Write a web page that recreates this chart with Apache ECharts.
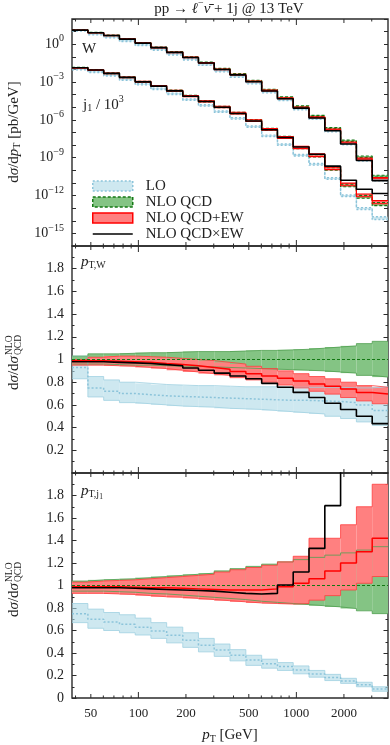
<!DOCTYPE html>
<html><head><meta charset="utf-8">
<script src="https://cdn.jsdelivr.net/npm/echarts@6/dist/echarts.min.js"></script>
<style>html,body{margin:0;padding:0;background:#fff}#c{width:390px;height:745px}</style>
</head><body><div id="c"></div>
<script>
// ---------------- DATA ----------------
const binEdges = [38, 47.9, 60.3, 75.9, 95.5, 120, 151, 191, 240, 302, 380, 479, 603, 759, 955, 1202, 1514, 1905, 2399, 3020, 3802];
const xLabels = [50, 100, 200, 500, 1000, 2000];
const xTicksMajor = [100, 1000];
const xTicksMid = [50, 200, 500, 2000];
const xTicksMinor = [40, 60, 70, 80, 90, 300, 400, 600, 700, 800, 900, 3000];
const topExpLabels = [0, -3, -6, -9, -12, -15];

// NLO QCD central values [pb/GeV] (top panel)
const wNLO = [13.5, 8.3, 5.0, 2.63, 1.26, 0.56, 0.24, 0.095, 0.036, 0.0112, 4.3e-3, 1.29e-3, 2.5e-4, 6.3e-5, 1.2e-5, 2.1e-6, 2.24e-7, 2.2e-8, 1.2e-9, 3.5e-11];
const j1NLO = [1.38e-2, 9.1e-3, 5.0e-3, 2.4e-3, 1.07e-3, 4.9e-4, 2.1e-4, 7.9e-5, 3.0e-5, 1.07e-5, 3.5e-6, 8.9e-7, 1.78e-7, 4.0e-8, 6.3e-9, 1.41e-9, 1.26e-10, 6.3e-12, 7.9e-13, 2.1e-13];

// ratios to NLO QCD, pT,W
const wLO    = [0.93, 0.75, 0.72, 0.70, 0.69, 0.68, 0.675, 0.67, 0.665, 0.66, 0.655, 0.65, 0.645, 0.64, 0.64, 0.635, 0.63, 0.62, 0.60, 0.55];
const wLOhi  = [1.03, 0.85, 0.82, 0.80, 0.79, 0.78, 0.775, 0.77, 0.77, 0.765, 0.76, 0.76, 0.76, 0.755, 0.755, 0.755, 0.755, 0.75, 0.75, 0.76];
const wLOlo  = [0.83, 0.67, 0.64, 0.62, 0.61, 0.60, 0.59, 0.585, 0.58, 0.57, 0.565, 0.56, 0.55, 0.54, 0.53, 0.52, 0.50, 0.48, 0.45, 0.42];
const wQCDhi = [1.03, 1.05, 1.05, 1.055, 1.06, 1.06, 1.065, 1.07, 1.07, 1.07, 1.075, 1.08, 1.08, 1.085, 1.09, 1.10, 1.11, 1.12, 1.14, 1.16];
const wQCDlo = [0.96, 0.96, 0.955, 0.95, 0.95, 0.945, 0.94, 0.94, 0.935, 0.93, 0.925, 0.92, 0.915, 0.91, 0.905, 0.90, 0.89, 0.88, 0.86, 0.845];
const wEW    = [0.99, 0.99, 0.985, 0.98, 0.975, 0.965, 0.955, 0.945, 0.93, 0.915, 0.895, 0.875, 0.855, 0.835, 0.81, 0.785, 0.765, 0.74, 0.71, 0.695];
const wEWhi  = [1.00, 1.02, 1.03, 1.03, 1.025, 1.02, 1.01, 1.00, 0.99, 0.975, 0.96, 0.94, 0.92, 0.90, 0.875, 0.85, 0.83, 0.80, 0.77, 0.755];
const wEWlo  = [0.95, 0.95, 0.945, 0.94, 0.93, 0.92, 0.905, 0.89, 0.875, 0.86, 0.84, 0.82, 0.80, 0.775, 0.75, 0.72, 0.695, 0.665, 0.635, 0.61];
const wMul   = [0.98, 0.98, 0.975, 0.97, 0.965, 0.955, 0.945, 0.925, 0.905, 0.88, 0.855, 0.83, 0.79, 0.755, 0.71, 0.665, 0.615, 0.56, 0.50, 0.435];

// ratios to NLO QCD, pT,j1
const jLO    = [0.75, 0.70, 0.675, 0.655, 0.63, 0.596, 0.558, 0.514, 0.47, 0.426, 0.38, 0.337, 0.305, 0.279, 0.25, 0.214, 0.182, 0.152, 0.117, 0.079];
const jLOhi  = [0.84, 0.79, 0.76, 0.74, 0.71, 0.67, 0.63, 0.58, 0.53, 0.48, 0.43, 0.38, 0.345, 0.315, 0.285, 0.245, 0.21, 0.175, 0.14, 0.10];
const jLOlo  = [0.67, 0.62, 0.60, 0.58, 0.56, 0.53, 0.49, 0.45, 0.41, 0.37, 0.33, 0.29, 0.265, 0.245, 0.215, 0.185, 0.155, 0.13, 0.10, 0.06];
const jQCDhi = [1.04, 1.05, 1.055, 1.06, 1.07, 1.08, 1.09, 1.10, 1.11, 1.13, 1.15, 1.17, 1.19, 1.21, 1.23, 1.25, 1.27, 1.29, 1.315, 1.345];
const jQCDlo = [0.95, 0.95, 0.945, 0.94, 0.93, 0.925, 0.915, 0.905, 0.895, 0.885, 0.875, 0.86, 0.85, 0.84, 0.83, 0.82, 0.81, 0.795, 0.775, 0.75];
const jEW    = [0.99, 0.99, 0.99, 0.985, 0.98, 0.98, 0.975, 0.97, 0.965, 0.96, 0.96, 0.96, 0.97, 0.99, 1.02, 1.06, 1.13, 1.20, 1.30, 1.42];
const jEWhi  = [1.03, 1.04, 1.045, 1.05, 1.06, 1.07, 1.08, 1.09, 1.10, 1.12, 1.14, 1.16, 1.18, 1.21, 1.26, 1.42, 1.42, 1.54, 1.70, 1.90];
const jEWlo  = [0.93, 0.93, 0.925, 0.92, 0.91, 0.90, 0.895, 0.885, 0.875, 0.865, 0.855, 0.845, 0.84, 0.835, 0.84, 0.87, 0.91, 0.96, 1.02, 1.08];
const jMul   = [0.98, 0.98, 0.98, 0.975, 0.97, 0.965, 0.96, 0.955, 0.95, 0.94, 0.93, 0.925, 0.93, 1.005, 1.12, 1.33, 1.71, 2.6, 4.0, 7.0];

// ---------------- STYLE ----------------
const FONT = "'Liberation Serif','DejaVu Serif',serif";
const FS = 15;      // text size
const FN = 13;      // tick number size
const AX = '#2b2b2b';
const C = {
  lbFill: 'rgba(173,216,230,0.6)', lbEdge: 'rgb(160,208,225)', lbLine: 'rgb(140,196,218)',
  gFill: 'rgb(132,196,132)', gEdge: 'rgb(80,160,80)', gLine: 'rgb(20,120,20)',
  rFill: 'rgb(255,128,128)', rEdge: 'rgb(255,60,60)', rLine: 'rgb(255,0,0)',
  black: '#000'
};
const L10 = Math.log10;
const X = binEdges.map(L10);
const GRID_TOPS = [19, 246, 473];
const YR = [[-16, 2], [0, 2], [0, 2]];

// ---------------- BUILDERS ----------------
function bandData(lo, hi, f) { return lo.map((l, i) => [X[i], X[i + 1], f(i, l), f(i, hi[i])]); }
function stepData(vals, f) {
  const d = vals.map((v, i) => [X[i], f(i, v)]);
  d.push([X[vals.length], f(vals.length - 1, vals[vals.length - 1])]);
  return d;
}
function bandSeries(gi, data, fill, name) {
  return {
    type: 'custom', name: name, xAxisIndex: gi, yAxisIndex: 2 * gi, data: data,
    encode: { x: [0, 1], y: [2, 3] }, silent: true, animation: false,
    renderItem: function (params, api) {
      const p0 = api.coord([api.value(0), api.value(3)]);
      const p1 = api.coord([api.value(1), api.value(2)]);
      const cs = params.coordSys;
      const r = echarts.graphic.clipRectByRect(
        { x: p0[0], y: p0[1], width: p1[0] - p0[0], height: p1[1] - p0[1] },
        { x: cs.x, y: cs.y, width: cs.width, height: cs.height });
      return r ? { type: 'rect', shape: r, style: { fill: fill } } : null;
    }
  };
}
function lineSeries(gi, data, color, width, type, name) {
  return {
    type: 'line', name: name, xAxisIndex: gi, yAxisIndex: 2 * gi, data: data, step: 'end',
    symbol: 'none', showSymbol: false, clip: true, silent: true, animation: false,
    lineStyle: { color: color, width: width, type: type || 'solid' }
  };
}
function tickSeries(gi) {
  const data = [];
  xTicksMajor.forEach(v => data.push([L10(v), YR[gi][0], 6]));
  xTicksMid.forEach(v => data.push([L10(v), YR[gi][0], 4]));
  xTicksMinor.forEach(v => data.push([L10(v), YR[gi][0], 2.5]));
  return {
    type: 'custom', xAxisIndex: gi, yAxisIndex: 2 * gi, data: data, silent: true, animation: false,
    encode: { x: 0, y: 1 }, z: 10,
    renderItem: function (params, api) {
      const x = api.coord([api.value(0), api.value(1)])[0];
      const cs = params.coordSys; const len = api.value(2);
      const st = { stroke: AX, lineWidth: 1 };
      return { type: 'group', children: [
        { type: 'line', shape: { x1: x, y1: cs.y + cs.height, x2: x, y2: cs.y + cs.height - len }, style: st },
        { type: 'line', shape: { x1: x, y1: cs.y, x2: x, y2: cs.y + len }, style: st }
      ] };
    }
  };
}

const series = [];
function addSet(gi, nlo, R, named) {
  const top = gi === 0;
  const f = top ? (i, r) => L10(nlo[i] * r) : (i, r) => r;
  const nm = s => named ? s : undefined;
  series.push(bandSeries(gi, bandData(R.LOlo, R.LOhi, f), C.lbFill, nm('LO')));
  series.push(bandSeries(gi, bandData(R.QCDlo, R.QCDhi, f), C.gFill, nm('NLO QCD')));
  series.push(bandSeries(gi, bandData(R.EWlo, R.EWhi, f), C.rFill, nm('NLO QCD+EW')));
  if (top) {
    series.push(lineSeries(gi, stepData(R.LOhi, f), C.lbLine, 1.4, [2, 2]));
    series.push(lineSeries(gi, stepData(R.LOlo, f), C.lbLine, 1.4, [2, 2]));
    series.push(lineSeries(gi, stepData(R.QCDhi, f), C.gLine, 1.2, [3, 2]));
    series.push(lineSeries(gi, stepData(R.QCDlo, f), C.gLine, 1.2, [3, 2]));
    series.push(lineSeries(gi, stepData(R.EWhi, f), C.rLine, 1.1));
    series.push(lineSeries(gi, stepData(R.EWlo, f), C.rLine, 1.1));
  } else {
    series.push(lineSeries(gi, stepData(R.LOhi, f), C.lbEdge, 0.8));
    series.push(lineSeries(gi, stepData(R.LOlo, f), C.lbEdge, 0.8));
    series.push(lineSeries(gi, stepData(R.QCDhi, f), C.gEdge, 0.8));
    series.push(lineSeries(gi, stepData(R.QCDlo, f), C.gEdge, 0.8));
    series.push(lineSeries(gi, stepData(R.EWhi, f), C.rEdge, 0.8));
    series.push(lineSeries(gi, stepData(R.EWlo, f), C.rEdge, 0.8));
    series.push(lineSeries(gi, stepData(R.LO, f), C.lbLine, 1.5, [2, 2]));
    series.push(lineSeries(gi, stepData(R.LO.map(() => 1), f), C.gLine, 1.2, [3, 2]));
    series.push(lineSeries(gi, stepData(R.EW, f), C.rLine, 1.5));
  }
  series.push(lineSeries(gi, stepData(R.Mul, f), C.black, 1.6, 'solid', nm('NLO QCD×EW')));
}
const RW = { LO: wLO, LOhi: wLOhi, LOlo: wLOlo, QCDhi: wQCDhi, QCDlo: wQCDlo, EW: wEW, EWhi: wEWhi, EWlo: wEWlo, Mul: wMul };
const RJ = { LO: jLO, LOhi: jLOhi, LOlo: jLOlo, QCDhi: jQCDhi, QCDlo: jQCDlo, EW: jEW, EWhi: jEWhi, EWlo: jEWlo, Mul: jMul };
addSet(0, wNLO, RW, true);
addSet(0, j1NLO, RJ, false);
addSet(1, null, RW, false);
addSet(2, null, RJ, false);
[0, 1, 2].forEach(gi => series.push(tickSeries(gi)));

// ---------------- AXES ----------------
const rich = {
  n: { fontFamily: FONT, fontSize: FS, color: '#222', verticalAlign: 'middle' },
  i: { fontFamily: FONT, fontSize: FS, fontStyle: 'italic', color: '#222', verticalAlign: 'middle' },
  sub: { fontFamily: FONT, fontSize: 10, color: '#222', padding: [7, 0, 0, 0], verticalAlign: 'middle' },
  ssub: { fontFamily: FONT, fontSize: 7.5, color: '#222', padding: [13, 0, 0, 0], verticalAlign: 'middle' },
  sup: { fontFamily: FONT, fontSize: 10, color: '#222', padding: [0, 0, 11, 0], verticalAlign: 'middle' }
};
const grid = GRID_TOPS.map(t => ({ left: 72, right: 2, top: t, height: 227, show: true, borderColor: AX, borderWidth: 1.4, backgroundColor: 'transparent' }));
const xAxis = [0, 1, 2].map(gi => ({
  gridIndex: gi, type: 'value', min: X[0], max: X[X.length - 1],
  axisLine: { show: false }, axisTick: { show: false }, splitLine: { show: false },
  axisLabel: gi === 2 ? { show: true, customValues: xLabels.map(L10), formatter: v => String(Math.round(Math.pow(10, v))), fontFamily: FONT, fontSize: FN, color: '#222', margin: 9 } : { show: false },
  name: gi === 2 ? '{i|p}{sub|T}{n| [GeV]}' : '', nameLocation: 'middle', nameGap: 29,
  nameTextStyle: { rich: rich }
}));
const yAxis = [];
[0, 1, 2].forEach(gi => {
  const top = gi === 0;
  const base = {
    gridIndex: gi, type: 'value', min: YR[gi][0], max: YR[gi][1], interval: top ? 1 : 0.2,
    axisLine: { show: false }, splitLine: { show: false },
    axisTick: { show: true, inside: true, length: top ? 4 : 4.5, lineStyle: { color: AX, width: 1 } },
    minorTick: { show: !top, splitNumber: 2, length: 2.5, lineStyle: { color: AX, width: 1 } }
  };
  const lab = top ? {
    formatter: v => topExpLabels.indexOf(Math.round(v)) >= 0 ? '{b|10}{s|' + (v === 0 ? '0' : '−' + (-Math.round(v))) + '}' : '',
    rich: { b: { fontFamily: FONT, fontSize: 14, color: '#222', verticalAlign: 'middle' }, s: { fontFamily: FONT, fontSize: 10, color: '#222', padding: [0, 0, 11, 0], verticalAlign: 'middle' } },
    margin: 8
  } : {
    formatter: v => { const r = Math.round(v * 10) / 10; if (r >= 2 || (gi === 1 && r <= 0)) return ''; return String(r); },
    fontFamily: FONT, fontSize: FN + 1, color: '#222', margin: 8
  };
  yAxis.push(Object.assign({}, base, { position: 'left', axisLabel: Object.assign({ show: true, showMinLabel: true, showMaxLabel: true, hideOverlap: false }, lab) }));
  yAxis.push(Object.assign({}, base, { position: 'right', axisLabel: { show: false } }));
});

// ---------------- TEXT ----------------
const T = (o) => Object.assign({ fontFamily: FONT, fontSize: FS, fill: '#222' }, o);
function ratioTitle(yc) {
  return { type: 'group', x: 14, y: yc, rotation: Math.PI / 2, silent: true, children: [
    { type: 'text', x: -30, y: 0, style: T({ text: '{n|d}{i|σ}{n|/d}{i|σ}', rich: rich, align: 'left', verticalAlign: 'middle' }) },
    { type: 'text', x: 5, y: -5, style: T({ text: 'NLO', fontSize: 9.5, align: 'left', verticalAlign: 'middle' }) },
    { type: 'text', x: 5, y: 4, style: T({ text: 'QCD', fontSize: 9.5, align: 'left', verticalAlign: 'middle' }) }
  ] };
}
const graphic = [
  { type: 'text', x: 229, y: 9, silent: true, style: T({ text: '{n|pp → }{i|ℓ}{sup|−}{i|ν̄}{n| + 1j @ 13 TeV}', rich: rich, align: 'center', verticalAlign: 'middle' }) },
  { type: 'text', x: 14, y: 132, rotation: Math.PI / 2, silent: true, style: T({ text: '{n|d}{i|σ}{n|/d}{i|p}{sub|T}{n| [pb/GeV]}', rich: rich, align: 'center', verticalAlign: 'middle' }) },
  ratioTitle(360), ratioTitle(587),
  { type: 'text', x: 82, y: 49, silent: true, style: T({ text: 'W', align: 'left', verticalAlign: 'middle' }) },
  { type: 'text', x: 83, y: 105, silent: true, style: T({ text: '{n|j}{sub|1}{n| / 10}{sup|3}', rich: rich, align: 'left', verticalAlign: 'middle' }) },
  { type: 'text', x: 81, y: 262, silent: true, style: T({ text: '{i|p}{sub|T,W}', rich: rich, align: 'left', verticalAlign: 'middle' }) },
  { type: 'text', x: 81, y: 491, silent: true, style: T({ text: '{i|p}{sub|T,j}{ssub|1}', rich: rich, align: 'left', verticalAlign: 'middle' }) }
];

const legend = {
  orient: 'vertical', left: 87, top: 173, itemWidth: 40, itemHeight: 10, itemGap: 0, selectedMode: false,
  textStyle: { fontFamily: FONT, fontSize: FS, color: '#222', lineHeight: 16, padding: [0, 0, 0, 8] },
  data: [
    { name: 'LO', icon: 'rect', itemStyle: { color: C.lbFill, borderColor: C.lbLine, borderWidth: 1.5, borderType: [2, 2] } },
    { name: 'NLO QCD', icon: 'rect', itemStyle: { color: C.gFill, borderColor: C.gLine, borderWidth: 1.5, borderType: [3, 2] } },
    { name: 'NLO QCD+EW', icon: 'rect', itemStyle: { color: C.rFill, borderColor: C.rLine, borderWidth: 1.5 } },
    { name: 'NLO QCD×EW', icon: 'path://M0,0H40V1.6H0Z', itemStyle: { color: '#000', borderWidth: 0 } }
  ]
};

const chart = echarts.init(document.getElementById('c'), null, { renderer: 'canvas' });
chart.setOption({ animation: false, backgroundColor: '#fff', grid, xAxis, yAxis, series, legend, graphic });
</script></body></html>
